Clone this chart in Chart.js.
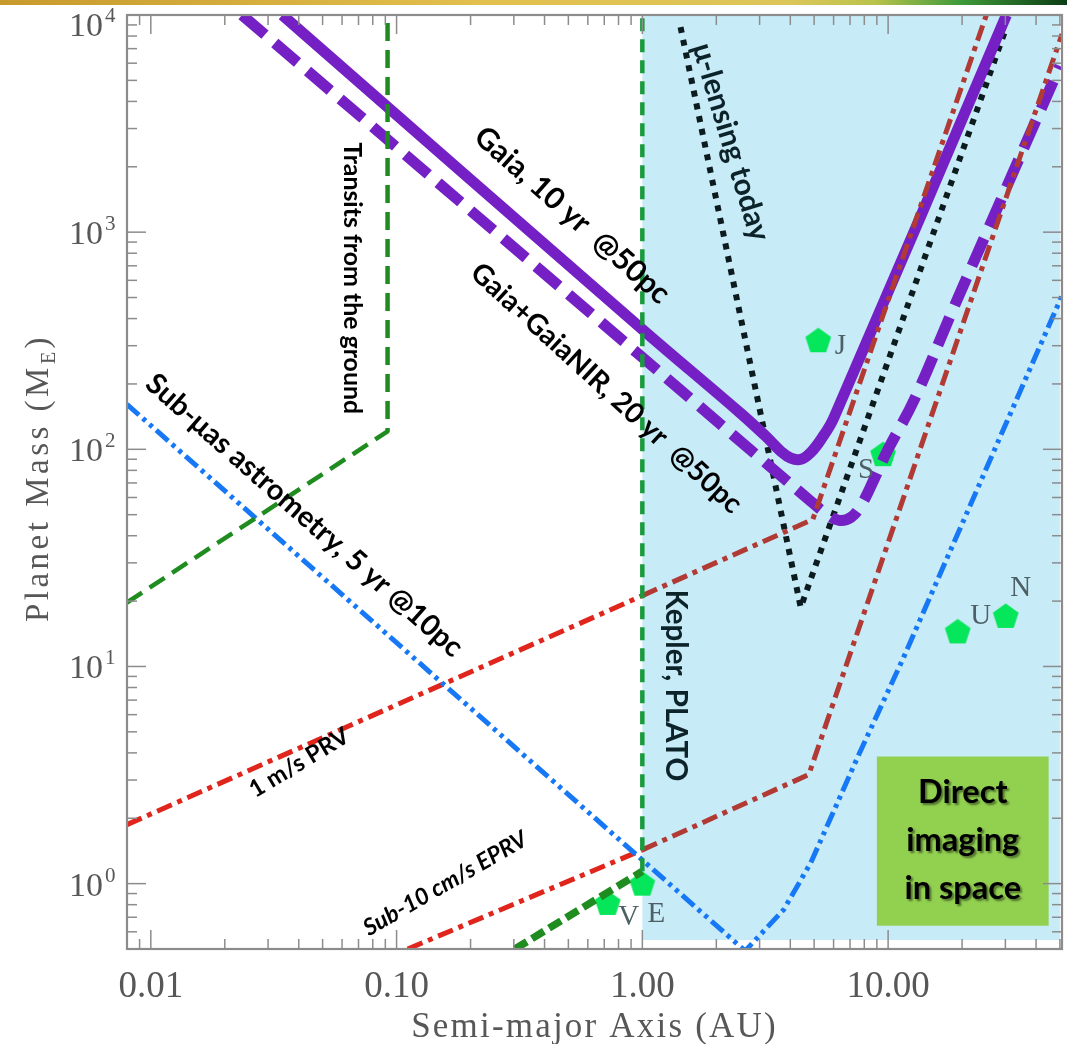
<!DOCTYPE html>
<html>
<head>
<meta charset="utf-8">
<title>Exoplanet detection space</title>
<script src="https://cdn.jsdelivr.net/npm/chart.js@4.4.1/dist/chart.umd.min.js"></script>
<style>
  html, body { margin: 0; padding: 0; background: #fff; }
  #wrap { position: relative; width: 1067px; height: 1044px; }
  #topbar { position: absolute; left: 0; top: 0; width: 1067px; height: 5px;
    background: linear-gradient(90deg, #c79a2c 0%, #e2c04e 45%, #dcc65a 74%, #b9c34c 82%, #3f9a3a 90%, #0c3d14 100%); }
</style>
</head>
<body>
<div id="wrap">
  <canvas id="chart" width="1067" height="1044"></canvas>
  <div id="topbar"></div>
</div>
<script>
// axis ranges (AU / Earth masses)
const xMin = 0.008, xMax = 51;
const yMin = 0.5, yMax = 10000;

const xTickValues = [0.01, 0.1, 1, 10];
const xTickLabels = ['0.01', '0.10', '1.00', '10.00'];
const yTickValues = [1, 10, 100, 1000, 10000];
const yTickExps = ['0', '1', '2', '3', '4'];

// detection limits: semi-major axis (AU) and planet mass (M_E)
const transitGroundA = [0.008, 0.0919, 0.0919];
const transitGroundM = [19.7, 121, 10000];

const keplerA = [1, 1];
const keplerM = [1.14, 10000];

const earthTransitA = [0.303, 1.0];
const earthTransitM = [0.5, 1.14];

const subUasA = [0.008, 2.62, 3.76, 4.85, 7.54, 11.6, 51];
const subUasM = [161, 0.49, 0.759, 1.25, 3.85, 11.1, 510];

const prvA = [0.008, 1.0, 4.94, 25.1];
const prvM = [1.87, 21.2, 47.6, 10000];

const eprvA = [0.111, 1.0, 4.76, 51];
const eprvM = [0.5, 1.43, 3.18, 8170];

const gaiaA = [0.0343, 1.0, 2.51, 3.18, 3.66, 4.02, 4.42, 4.85, 5.33, 6.02, 30.3];
const gaiaM = [10000, 357, 146.6, 114.8, 97.9, 91.0, 90.0, 96.9, 111, 140, 10000];

const gaiaNirA = [0.0235, 1.0, 4.85, 5.58, 6.31, 7.06, 7.76, 8.77, 10.0, 12.8, 18.6, 50];
const gaiaNirM = [10000, 265, 57.6, 50.7, 47.1, 48.6, 55.2, 72.8, 100, 170, 456, 5820];

const lensingA = [1.43, 4.41, 30.3];
const lensingM = [8800, 18.7, 8800];

// solar system planets
const planetNames = ['V', 'E', 'J', 'S', 'U', 'N'];
const planetA = [0.723, 1.0, 5.2, 9.54, 19.2, 30.1];
const planetM = [0.815, 1.0, 318, 95, 14.5, 17.1];

// shaded direct imaging zone
const imagingZone = { aMin: 1, aMax: 50, mMin: 0.55 };
const imagingBox = { aMin: 9.0, aMax: 45, mMin: 0.64, mMax: 3.85 };

const pts = (a, m) => a.map((v, i) => ({ x: v, y: m[i] }));

// pentagon marker
const pent = document.createElement('canvas');
pent.width = 28; pent.height = 28;
(function () {
  const c = pent.getContext('2d');
  c.fillStyle = '#06e65a';
  c.beginPath();
  for (let i = 0; i < 5; i++) {
    const t = -Math.PI / 2 + i * 2 * Math.PI / 5;
    const px = 14 + 13.5 * Math.cos(t), py = 15 + 13.5 * Math.sin(t);
    i ? c.lineTo(px, py) : c.moveTo(px, py);
  }
  c.closePath();
  c.fill();
})();

const serif = '"Liberation Serif", "DejaVu Serif", serif';
const sans = 'Lato, "Open Sans", sans-serif';
const axisColor = '#575757';

function line(ctx, x1, y1, x2, y2) {
  ctx.beginPath(); ctx.moveTo(x1, y1); ctx.lineTo(x2, y2); ctx.stroke();
}

function fitText(ctx, n, cx, cy) {
  ctx.save();
  ctx.font = `${n.style || 'normal'} bold 20px ${sans}`;
  const size = 20 * n.width / ctx.measureText(n.text).width;
  ctx.font = `${n.style || 'normal'} bold ${size}px ${sans}`;
  ctx.translate(cx, cy);
  ctx.rotate(n.angle * Math.PI / 180);
  ctx.textAlign = 'center';
  ctx.textBaseline = 'middle';
  ctx.fillStyle = n.color || '#000';
  ctx.fillText(n.text, 0, 0);
  ctx.restore();
}

// annotations, anchored in data coordinates
const notes = [
  { text: 'Transits from the ground', a: 0.0661, m: 614, angle: 90, width: 272 },
  { text: 'Gaia, 10 yr  @50pc', a: 0.518, m: 1197, angle: 41.6, width: 250 },
  { text: 'Gaia+GaiaNIR, 20 yr  @50pc', a: 0.713, m: 191, angle: 42.4, width: 356 },
  { text: 'μ-lensing today', a: 2.29, m: 2600, angle: 73.3, width: 205, color: '#0b2329' },
  { text: 'Sub-μas astrometry, 5 yr @10pc', a: 0.0421, m: 49.6, angle: 41.4, width: 412 },
  { text: '1 m/s PRV', a: 0.0402, m: 3.6, angle: -31, width: 112 },
  { text: 'Sub-10 cm/s EPRV', a: 0.158, m: 1.0, angle: -30, width: 185, style: 'italic' },
  { text: 'Kepler, PLATO', a: 1.37, m: 8.17, angle: 90, width: 192, color: '#0b2329' }
];

const planetLabelOffsets = { V: [21, 14], E: [14, 31], J: [22, 6], S: [-17, 16], U: [23, -15], N: [15, -27] };

const decorPlugin = {
  id: 'decor',
  beforeDatasetsDraw(chart) {
    const { ctx, chartArea } = chart;
    const xs = chart.scales.x, ys = chart.scales.y;
    const x1 = xs.getPixelForValue(imagingZone.aMin);
    const x2 = xs.getPixelForValue(imagingZone.aMax);
    const y2 = ys.getPixelForValue(imagingZone.mMin);
    ctx.save();
    ctx.fillStyle = '#c8ebf8';
    ctx.fillRect(x1, chartArea.top, x2 - x1, y2 - chartArea.top);
    ctx.restore();
  },
  afterDatasetsDraw(chart) {
    const { ctx, chartArea } = chart;
    const { left, right, top, bottom } = chartArea;
    const xs = chart.scales.x, ys = chart.scales.y;

    // direct imaging box
    const bx1 = xs.getPixelForValue(imagingBox.aMin), bx2 = xs.getPixelForValue(imagingBox.aMax);
    const by1 = ys.getPixelForValue(imagingBox.mMax), by2 = ys.getPixelForValue(imagingBox.mMin);
    ctx.save();
    ctx.fillStyle = '#92d050';
    ctx.fillRect(bx1, by1, bx2 - bx1, by2 - by1);
    ctx.font = `bold 20px ${sans}`;
    const fs = 20 * 113 / ctx.measureText('imaging').width;
    ctx.font = `bold ${fs}px ${sans}`;
    ctx.textAlign = 'center';
    ctx.textBaseline = 'middle';
    ctx.shadowColor = 'rgba(0,0,0,0.45)';
    ctx.shadowOffsetX = 2; ctx.shadowOffsetY = 2; ctx.shadowBlur = 2;
    ctx.fillStyle = '#000';
    const bh = by2 - by1, bcx = (bx1 + bx2) / 2;
    ['Direct', 'imaging', 'in space'].forEach((t, i) => ctx.fillText(t, bcx, by1 + bh * (0.21 + i * 0.285)));
    ctx.restore();

    // annotations
    notes.forEach(n => fitText(ctx, n, xs.getPixelForValue(n.a), ys.getPixelForValue(n.m)));

    // planet letters
    const meta = chart.getDatasetMeta(chart.data.datasets.length - 1);
    ctx.save();
    ctx.font = `29px ${serif}`;
    ctx.fillStyle = '#4d6066';
    ctx.textAlign = 'center';
    ctx.textBaseline = 'middle';
    meta.data.forEach((p, i) => {
      const o = planetLabelOffsets[planetNames[i]];
      ctx.fillText(planetNames[i], p.x + o[0], p.y + o[1]);
    });
    ctx.restore();

    // frame and inward ticks on all sides
    ctx.save();
    ctx.strokeStyle = '#8c8c8c';
    ctx.lineWidth = 1.5;
    for (let e = -3; e <= 4; e++) {
      for (let k = 1; k <= 9; k++) {
        const v = k * Math.pow(10, e);
        const len = k === 1 ? 19 : 10;
        if (v >= xMin && v <= xMax) {
          const px = xs.getPixelForValue(v);
          line(ctx, px, bottom, px, bottom - len);
          line(ctx, px, top, px, top + len);
        }
        if (v >= yMin && v <= yMax) {
          const py = ys.getPixelForValue(v);
          line(ctx, left, py, left + len, py);
          line(ctx, right, py, right - len, py);
        }
      }
    }
    ctx.lineWidth = 2.2;
    ctx.strokeRect(left, top, right - left, bottom - top);
    ctx.restore();

    // tick labels
    ctx.save();
    ctx.fillStyle = axisColor;
    ctx.textBaseline = 'alphabetic';
    ctx.textAlign = 'center';
    ctx.font = `37px ${serif}`;
    xTickValues.forEach((v, i) => ctx.fillText(xTickLabels[i], xs.getPixelForValue(v), bottom + 48));
    yTickValues.forEach((v, i) => {
      const py = Math.max(ys.getPixelForValue(v), 24);
      ctx.textAlign = 'right';
      ctx.font = `34px ${serif}`;
      ctx.fillText('10', left - 24, py + 12);
      ctx.textAlign = 'left';
      ctx.font = `21px ${serif}`;
      ctx.fillText(yTickExps[i], left - 22, py - 2);
    });

    // axis titles
    ctx.font = `35px ${serif}`;
    ctx.letterSpacing = '2.2px';
    ctx.textAlign = 'center';
    ctx.fillText('Semi-major Axis (AU)', (left + right) / 2, 1037);

    ctx.translate(48, (top + bottom) / 2 - 4);
    ctx.rotate(-Math.PI / 2);
    ctx.textAlign = 'left';
    ctx.font = `33px ${serif}`;
    ctx.letterSpacing = '3.5px';
    const main = 'Planet Mass (M';
    const w1 = ctx.measureText(main).width;
    ctx.font = `20px ${serif}`;
    const w2 = ctx.measureText('E').width;
    ctx.font = `33px ${serif}`;
    const w3 = ctx.measureText(')').width;
    const x0 = -(w1 + w2 + w3) / 2;
    ctx.fillText(main, x0, 0);
    ctx.font = `20px ${serif}`;
    ctx.fillText('E', x0 + w1, 7);
    ctx.font = `33px ${serif}`;
    ctx.fillText(')', x0 + w1 + w2, 0);
    ctx.restore();
  }
};

const lineSet = (data, color, width, dash, extra) => Object.assign({
  data, showLine: true, borderColor: color, borderWidth: width, borderDash: dash,
  pointRadius: 0, fill: false, clip: 0, tension: 0, borderJoinStyle: 'round'
}, extra || {});

const redSegments = { segment: { borderColor: c => c.p0.parsed.x < 1 ? '#e0261c' : '#b23a34' } };

new Chart(document.getElementById('chart'), {
  type: 'scatter',
  data: {
    datasets: [
      lineSet(pts(transitGroundA, transitGroundM), '#1e8c1e', 4.5, [18, 9]),
      lineSet(pts(keplerA, keplerM), '#1a9a3c', 4.5, [13, 8]),
      lineSet(pts(earthTransitA, earthTransitM), '#1e8c1e', 7.5, [14, 6]),
      lineSet(pts(subUasA, subUasM), '#1778f5', 5, [16, 5, 4, 5, 4, 5]),
      lineSet(pts(prvA, prvM), '#e0261c', 5, [16, 6, 5, 6], redSegments),
      lineSet(pts(eprvA, eprvM), '#e0261c', 5, [16, 6, 5, 6], redSegments),
      lineSet(pts(gaiaNirA, gaiaNirM), '#7420c4', 11, [30, 13], { tension: 0.4 }),
      lineSet(pts(gaiaA, gaiaM), '#7420c4', 11, [], { tension: 0.4 }),
      lineSet(pts(lensingA, lensingM), '#0c1c1e', 6, [6, 7]),
      {
        data: pts(planetA, planetM), showLine: false,
        pointStyle: pent, pointRadius: 13, clip: false
      }
    ]
  },
  options: {
    responsive: false,
    devicePixelRatio: 1,
    animation: false,
    layout: { autoPadding: false, padding: { left: 127, top: 15, right: 5, bottom: 95 } },
    plugins: { legend: { display: false }, tooltip: { enabled: false } },
    scales: {
      x: { type: 'logarithmic', min: xMin, max: xMax, display: false },
      y: { type: 'logarithmic', min: yMin, max: yMax, display: false }
    }
  },
  plugins: [decorPlugin]
});
</script>
</body>
</html>
